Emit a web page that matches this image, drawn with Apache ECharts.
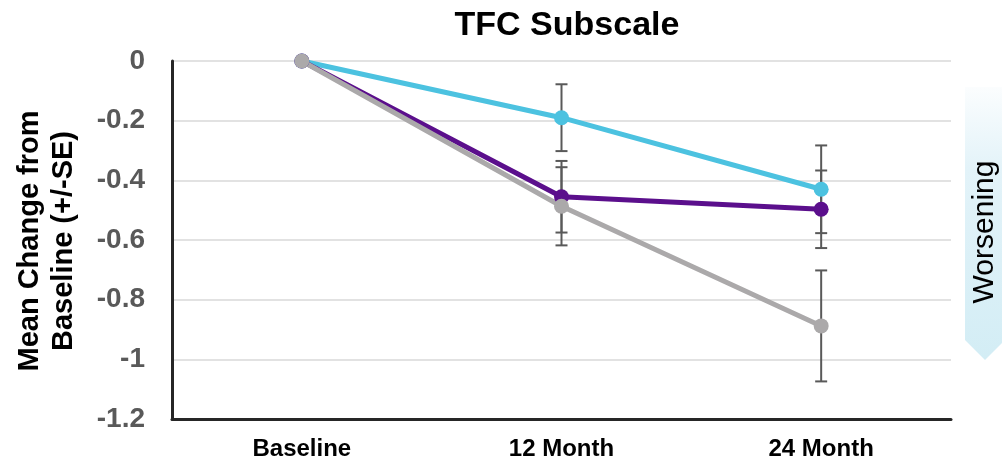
<!DOCTYPE html>
<html>
<head>
<meta charset="utf-8">
<script src="https://cdn.jsdelivr.net/npm/echarts@6/dist/echarts.min.js"></script>
<style>html,body{margin:0;padding:0;background:#fff;}#c{width:1002px;height:469px;}</style>
</head>
<body>
<div id="c"></div>
<script>
var categories = ['Baseline', '12 Month', '24 Month'];
var blueMean = [0, -0.19, -0.43];
var blueSE = [0, 0.112, 0.147];
var purpleMean = [0, -0.455, -0.497];
var purpleSE = [0, 0.12, 0.13];
var grayMean = [0, -0.487, -0.888];
var graySE = [0, 0.131, 0.186];
var yTicks = [0, -0.2, -0.4, -0.6, -0.8, -1, -1.2];

var FONT = '"Liberation Sans", Arial, sans-serif';
var chart = echarts.init(document.getElementById('c'));

function errData(mean, se) {
  var out = [];
  for (var i = 0; i < mean.length; i++) {
    if (se[i] > 0) out.push([i, mean[i] - se[i], mean[i] + se[i]]);
  }
  return out;
}
function errSeries(mean, se) {
  return {
    type: 'custom',
    z: 1,
    silent: true,
    data: errData(mean, se),
    renderItem: function (params, api) {
      var x = api.value(0);
      var lo = api.coord([x, api.value(1)]);
      var hi = api.coord([x, api.value(2)]);
      var w = 6;
      var st = { stroke: '#595959', lineWidth: 2 };
      return {
        type: 'group',
        children: [
          { type: 'line', shape: { x1: lo[0], y1: lo[1], x2: hi[0], y2: hi[1] }, style: st },
          { type: 'line', shape: { x1: lo[0] - w, y1: lo[1], x2: lo[0] + w, y2: lo[1] }, style: st },
          { type: 'line', shape: { x1: hi[0] - w, y1: hi[1], x2: hi[0] + w, y2: hi[1] }, style: st }
        ]
      };
    }
  };
}
function lineSeries(name, data, color) {
  return {
    name: name,
    type: 'line',
    z: 3,
    data: data,
    symbol: 'circle',
    symbolSize: 15,
    lineStyle: { color: color, width: 5 },
    itemStyle: { color: color },
    emphasis: { disabled: true }
  };
}

chart.setOption({
  animation: false,
  title: {
    text: 'TFC Subscale',
    left: 562, top: 4, textAlign: 'center',
    textStyle: { fontFamily: FONT, fontWeight: 'bold', fontSize: 34, color: '#000' }
  },
  grid: { left: 172, right: 51, top: 61, bottom: 50 },
  xAxis: {
    type: 'category',
    data: categories,
    boundaryGap: true,
    axisLine: { onZero: false, lineStyle: { color: '#262626', width: 3 } },
    axisTick: { show: false },
    axisLabel: { fontFamily: FONT, fontWeight: 'bold', fontSize: 24, color: '#000', margin: 18 }
  },
  yAxis: {
    type: 'value',
    min: -1.2, max: 0, interval: 0.2,
    axisLine: { show: true, lineStyle: { color: '#262626', width: 3 } },
    axisTick: { show: false },
    splitLine: { lineStyle: { color: '#d9d9d9', width: 1.5 } },
    axisLabel: {
      fontFamily: FONT, fontWeight: 'bold', fontSize: 28, color: '#595959', margin: 27,
      formatter: function (v) { return String(Math.round(v * 10) / 10); }
    }
  },
  graphic: [
    {
      type: 'polygon',
      shape: { points: [[965, 87], [1005, 87], [1005, 340], [985, 360], [965, 340]] },
      style: {
        fill: new echarts.graphic.LinearGradient(0, 0, 0, 1, [
          { offset: 0, color: '#fbfdfe' },
          { offset: 0.3, color: '#e3f3f9' },
          { offset: 1, color: '#d3edf5' }
        ])
      },
      z: 0
    },
    {
      type: 'text',
      x: 985, y: 232, rotation: Math.PI / 2,
      style: { text: 'Worsening', fontFamily: FONT, fontSize: 30, fill: '#000', align: 'center', verticalAlign: 'middle' },
      z: 5
    },
    {
      type: 'text',
      x: 47, y: 241, rotation: Math.PI / 2,
      style: {
        text: 'Mean Change from\nBaseline (+/-SE)', fontFamily: FONT, fontWeight: 'bold', fontSize: 29,
        lineHeight: 34, fill: '#000', align: 'center', verticalAlign: 'middle'
      },
      z: 5
    }
  ],
  series: [
    errSeries(blueMean, blueSE),
    errSeries(purpleMean, purpleSE),
    errSeries(grayMean, graySE),
    lineSeries('Blue', blueMean, '#4cc2e0'),
    lineSeries('Purple', purpleMean, '#5b0f8c'),
    lineSeries('Gray', grayMean, '#aba9aa')
  ]
});
</script>
</body>
</html>
